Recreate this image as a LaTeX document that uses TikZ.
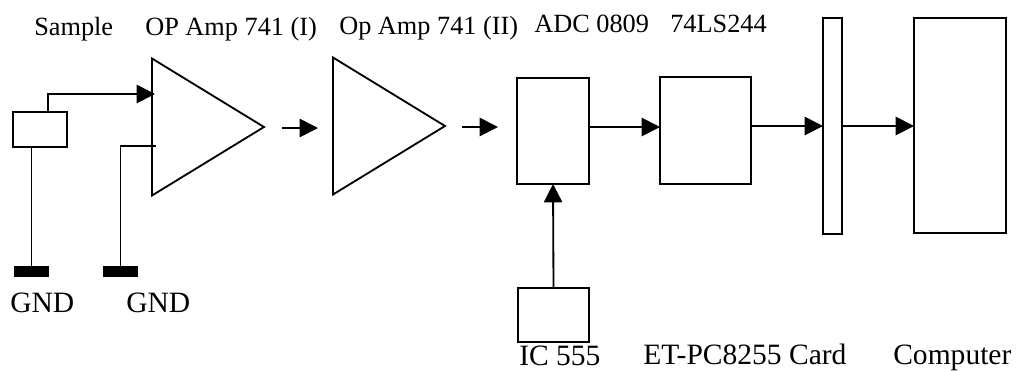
\documentclass[tikz,border=0pt]{standalone}
\usepackage{fontspec}
\setmainfont{Liberation Serif}
\usetikzlibrary{arrows.meta,shapes.geometric}

\tikzset{
    wire/.style={line width=1.3pt},
    flow/.style={wire,-{Triangle[length=13pt,width=13pt]}},
    block/.style={draw,wire,rectangle,inner sep=0pt,outer sep=0pt},
    amp/.style={draw,wire,isosceles triangle,isosceles triangle stretches,shape border rotate=0,
        minimum height=112*0.025cm,minimum width=137*0.025cm,inner sep=0pt,outer sep=0pt,anchor=apex},
    gnd/.style={fill=black,rectangle,inner sep=0pt,outer sep=0pt,minimum width=35*0.025cm,minimum height=11*0.025cm},
    lbl/.style={anchor=base west,inner sep=0pt,font=\fontsize{18.7pt}{22pt}\selectfont},
    lblbig/.style={lbl,font=\fontsize{21pt}{25pt}\selectfont}
}

\begin{document}
\begin{tikzpicture}[x=0.025cm,y=-0.025cm]
            \useasboundingbox (0,0) rectangle (1016,371);

            % labels along the top
            \node[lbl] (lsample) at (34,35) {Sample};
            \node[lbl] (lamp1) at (145,35) {OP Amp 741 (I)};
            \node[lbl] (lamp2) at (339,34) {Op Amp 741 (II)};
            \node[lbl] (ladc) at (534,32) {ADC 0809};
            \node[lbl] (lbuf) at (670,32) {74LS244};

            % labels along the bottom
            \node[lblbig] (lgnd1) at (10,312) {GND};
            \node[lblbig] (lgnd2) at (126,312) {GND};
            \node[lblbig] (lic) at (519,365.5) {IC 555};
            \node[lblbig] (lcard) at (643,364) {ET-PC8255 Card};
            \node[lblbig] (lpc) at (893,364) {Computer};

            % blocks
            \node[block,minimum width=54*0.025cm,minimum height=35*0.025cm] (sample) at (40,129.5) {};
            \node[amp] (amp1) at (264,127) {};
            \node[amp] (amp2) at (445,126) {};
            \node[block,minimum width=72*0.025cm,minimum height=106*0.025cm] (adc) at (553,131) {};
            \node[block,minimum width=71*0.025cm,minimum height=54*0.025cm] (ic) at (553.5,315) {};
            \node[block,minimum width=91*0.025cm,minimum height=107*0.025cm] (buf) at (705.5,130.5) {};
            \node[block,minimum width=19*0.025cm,minimum height=216*0.025cm] (card) at (832.5,126) {};
            \node[block,minimum width=92*0.025cm,minimum height=215*0.025cm] (pc) at (960,125.5) {};
            \node[gnd] (gnd1) at (31.5,271.5) {};
            \node[gnd] (gnd2) at (120.5,271.5) {};

            % wires on the input side
            \coordinate (A) at (48,112);
            \coordinate (B) at (48,94);
            \coordinate (C) at (155,94);
            \coordinate (D) at (156,146);
            \coordinate (E) at (120.5,146);
            \draw[flow] (A) -- (B) -- (C);
            \draw[wire] (D) -- (E) -- (gnd2.north);
            \draw[wire] (sample.south -| gnd1.north) -- (gnd1.north);

            % free arrows after each amplifier
            \coordinate (F) at (282,128);
            \coordinate (G) at (318,128);
            \coordinate (H) at (462,127);
            \coordinate (I) at (498,127);
            \draw[flow] (F) -- (G);
            \draw[flow] (H) -- (I);

            % chain to the computer
            \draw[flow] (adc.east |- 0,127) -- (buf.west |- 0,127);
            \draw[flow] (buf.east |- 0,126) -- (card.west |- 0,126);
            \draw[flow] (card.east |- 0,126) -- (pc.west |- 0,126);
            \draw[flow] (ic.north) -- (adc.south);
        \end{tikzpicture}
\end{document}
